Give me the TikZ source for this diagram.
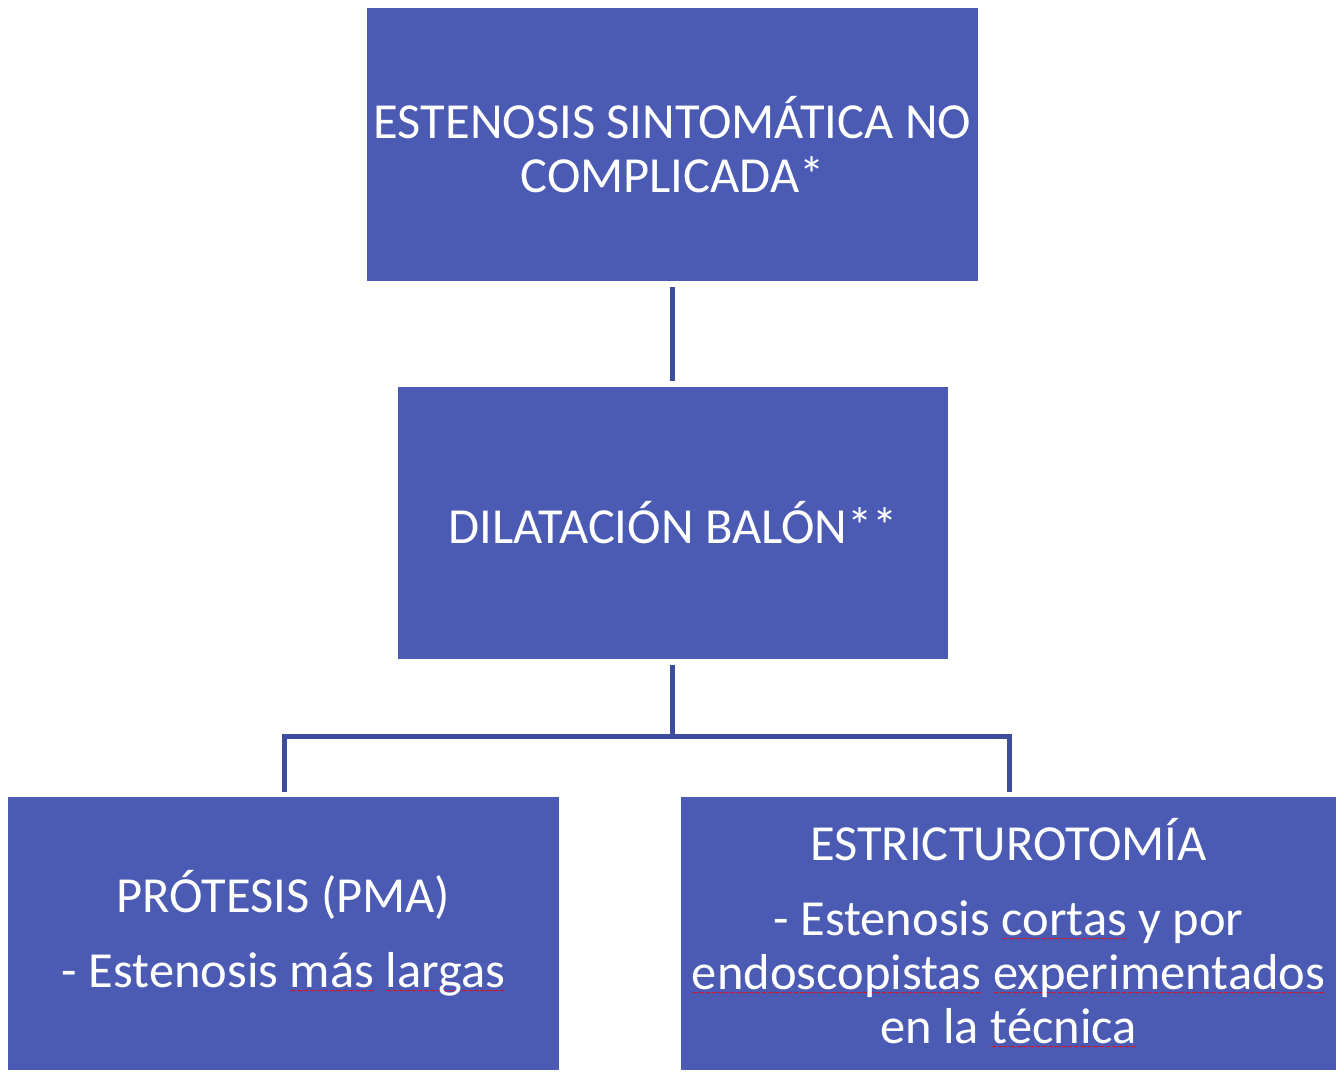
\documentclass[tikz,border=0pt]{standalone}
\usepackage{fontspec}
\setmainfont{Carlito}
\newfontfamily\wavefont{DejaVu Sans Bold}
\definecolor{boxblue}{RGB}{75,91,180}
\definecolor{lineblue}{RGB}{62,76,158}
\newcommand\redwave[1]{\setbox0\hbox{#1}\leavevmode\rlap{\lower6pt\hbox to\wd0{\color{red}\wavefont\fontsize{7.5}{7.5}\selectfont\xleaders\hbox{∼}\hfil}}\box0\relax}
\begin{document}
\begin{tikzpicture}[x=1pt,y=-1pt,
  blk/.style={draw=none,fill=boxblue,rectangle,inner sep=0pt,outer sep=0pt,
    text=white,align=center,font=\fontsize{50.5}{54}\selectfont},
  conn/.style={draw=lineblue,line width=5pt,line join=miter}]
\useasboundingbox (0,0) rectangle (1344,1080);
\fill[white] (0,0) rectangle (1344,1080);
\node[blk,minimum width=611pt,minimum height=273pt] (top) at (672.5,144.5)
  {ESTENOSIS SINTOMÁTICA NO\\COMPLICADA*};
\node[blk,minimum width=550pt,minimum height=272pt] (mid) at (673,523)
  {DILATACIÓN BALÓN**};
\node[blk,minimum width=551pt,minimum height=273pt] (bl) at (283.5,933.5)
  {PRÓTESIS (PMA)\\[21pt]- Estenosis \redwave{más} \redwave{largas}};
\node[blk,minimum width=655pt,minimum height=273pt] (br) at (1008.5,933.5)
  {ESTRICTUROTOMÍA\\[21pt]- Estenosis \redwave{cortas} y por\\\redwave{endoscopistas} \redwave{experimentados}\\en la \redwave{técnica}};
\coordinate (j) at (672,736);
\draw[conn,shorten <=6pt,shorten >=6pt] (top.south -| 672,0) -- (mid.north -| 672,0);
\draw[conn,shorten <=6pt] (mid.south -| 672,0) -- (j);
\draw[conn,shorten >=5pt] (j) -| (bl.north -| 284,0);
\draw[conn,shorten >=5pt] (j) -| (br.north -| 1009,0);
\end{tikzpicture}
\end{document}
